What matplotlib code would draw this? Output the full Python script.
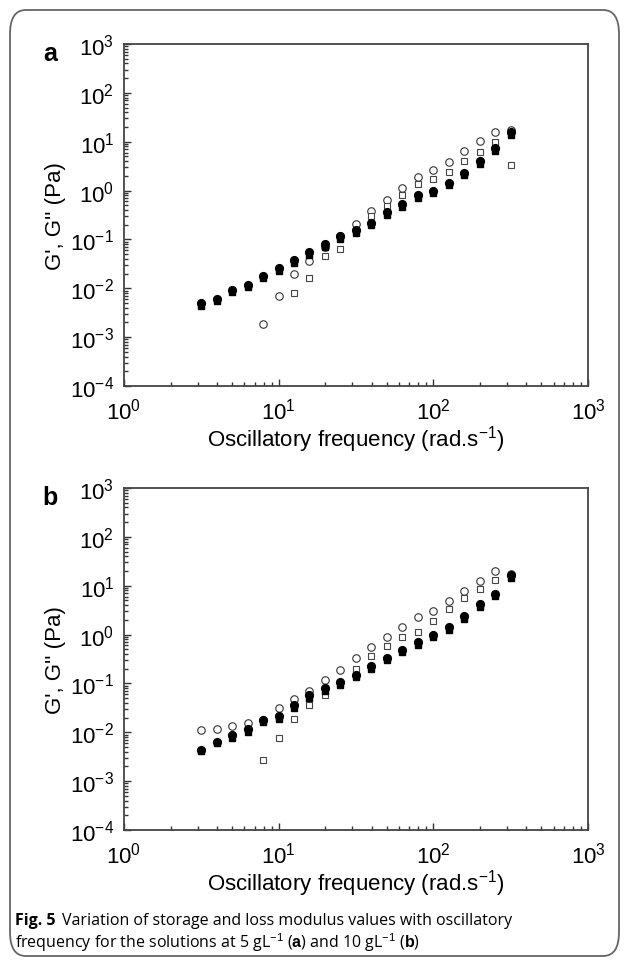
import matplotlib
matplotlib.use("Agg")
import matplotlib.pyplot as plt
import numpy as np
from matplotlib.patches import FancyBboxPatch
from matplotlib.ticker import LogLocator, LogFormatterMathtext, NullFormatter

plt.rcParams['font.family'] = ['Liberation Sans', 'DejaVu Sans']
plt.rcParams['mathtext.fontset'] = 'custom'
plt.rcParams['mathtext.rm'] = 'Liberation Sans'
plt.rcParams['mathtext.it'] = 'Liberation Sans:italic'
plt.rcParams['mathtext.bf'] = 'Liberation Sans:bold'

# oscillatory frequency (rad/s), shared by both panels
freq = [3.16, 3.98, 5.01, 6.31, 7.94, 10.0, 12.6, 15.8, 20.0, 25.1, 31.6,
        39.8, 50.1, 63.1, 79.4, 100, 126, 158, 200, 251, 316]

# panel a (5 g/L)
a_open_circ = [0.0019, 0.0071, 0.0195, 0.037, 0.07, 0.118, 0.21, 0.39, 0.64,
               1.15, 1.86, 2.63, 3.9, 6.45, 10.3, 15.8, 17.0]
a_open_sq = [0.008, 0.0165, 0.0466, 0.064, 0.15, 0.30, 0.49, 0.82, 1.36,
             1.70, 2.37, 4.0, 6.3, 9.7, 3.4]
a_fill_circ = [0.0049, 0.0061, 0.0093, 0.0118, 0.0182, 0.026, 0.038, 0.056,
               0.080, 0.115, 0.155, 0.22, 0.36, 0.53, 0.82, 1.0, 1.45, 2.3,
               4.0, 7.3, 16.0]
a_fill_sq = [0.0043, 0.0054, 0.0083, 0.0104, 0.016, 0.023, 0.033, 0.049,
             0.071, 0.102, 0.138, 0.195, 0.31, 0.47, 0.72, 0.88, 1.28, 2.05,
             3.5, 6.5, 14.0]

# panel b (10 g/L)
b_open_circ = [0.0113, 0.0117, 0.0137, 0.0155, 0.018, 0.031, 0.048, 0.071,
               0.12, 0.19, 0.33, 0.55, 0.88, 1.45, 2.33, 3.04, 4.8, 7.8,
               12.7, 19.7, 17.0]
b_open_sq = [0.00276, 0.0077, 0.019, 0.036, 0.059, 0.10, 0.20, 0.36, 0.59,
             0.91, 1.11, 1.87, 3.34, 5.5, 8.6, 13.1, 15.0]
b_fill_circ = [0.0043, 0.0064, 0.0088, 0.0116, 0.0178, 0.0218, 0.036, 0.057,
               0.079, 0.106, 0.152, 0.225, 0.335, 0.48, 0.71, 0.99, 1.43,
               2.4, 4.25, 6.9, 16.2]
b_fill_sq = [0.0041, 0.0060, 0.0078, 0.0103, 0.016, 0.019, 0.031, 0.050,
             0.070, 0.094, 0.135, 0.20, 0.30, 0.43, 0.62, 0.88, 1.26, 2.1,
             3.7, 6.1, 14.3]

W, H = 629, 962
fig = plt.figure(figsize=(W / 100, H / 100), dpi=100)


def ax_rect(left, top, right, bottom):
    return [left / W, 1 - bottom / H, (right - left) / W, (bottom - top) / H]


def panel(rect, oc, osq, fc, fsq, letter):
    ax = fig.add_axes(rect)
    ax.set_xscale('log')
    ax.set_yscale('log')
    n_oc, n_os = len(oc), len(osq)
    ax.plot(freq[-n_oc:], oc, 'o', ms=5.4, mfc='white', mec='#333333', mew=0.8)
    ax.plot(freq[-n_os:], osq, 's', ms=4.8, mfc='white', mec='#444444', mew=0.8)
    ax.plot(freq, fsq, 's', ms=5.0, color='black')
    ax.plot(freq, fc, 'o', ms=5.6, color='black')
    ax.set_xlim(1, 1000)
    ax.set_ylim(1e-4, 1e3)
    for s in ax.spines.values():
        s.set_color('#444444')
        s.set_linewidth(1.3)
    ax.xaxis.set_major_locator(LogLocator(base=10, numticks=10))
    ax.yaxis.set_major_locator(LogLocator(base=10, numticks=10))
    ax.xaxis.set_minor_locator(LogLocator(base=10, subs=np.arange(2, 10), numticks=20))
    ax.yaxis.set_minor_locator(LogLocator(base=10, subs=np.arange(2, 10), numticks=20))
    ax.xaxis.set_major_formatter(LogFormatterMathtext())
    ax.yaxis.set_major_formatter(LogFormatterMathtext())
    ax.xaxis.set_minor_formatter(NullFormatter())
    ax.yaxis.set_minor_formatter(NullFormatter())
    ax.tick_params(which='both', direction='in', top=False, right=False,
                   labelsize=16, color='#333333', width=1.0)
    ax.tick_params(which='major', length=5)
    ax.tick_params(which='minor', length=3)
    ax.tick_params(axis='x', which='major', pad=8)
    ax.tick_params(axis='y', which='major', pad=7)
    ax.set_xlabel('Oscillatory frequency (rad.s$^{-1}$)', fontsize=16, labelpad=0)
    ax.set_ylabel("G', G'' (Pa)", fontsize=16, labelpad=3)
    ax.text(-0.175, 0.975, letter, transform=ax.transAxes, fontsize=18,
            fontweight='bold', ha='left', va='center')
    return ax


panel(ax_rect(124, 45, 588, 387), a_open_circ, a_open_sq, a_fill_circ, a_fill_sq, 'a')
panel(ax_rect(124, 489, 588, 831), b_open_circ, b_open_sq, b_fill_circ, b_fill_sq, 'b')

# rounded frame around the figure
box = FancyBboxPatch((10 / W, 5 / H), 609 / W, 946 / H,
                     boxstyle='round,pad=0,rounding_size=0.025',
                     transform=fig.transFigure, fill=False,
                     edgecolor='#666666', linewidth=1.3)
fig.add_artist(box)

# caption
cap_font = ['Open Sans', 'DejaVu Sans']
cap_size = 11.5
t1 = fig.text(15 / W, 1 - 921 / H, 'Fig. 5', fontsize=cap_size, family=cap_font,
              fontweight='bold', va='center', ha='left')
fig.canvas.draw()
ext = t1.get_window_extent(fig.canvas.get_renderer())
fig.text(ext.x1 / W + 7 / W, 1 - 921 / H,
         'Variation of storage and loss modulus values with oscillatory',
         fontsize=cap_size, family=cap_font, va='center', ha='left')
fig.text(15 / W, 1 - 943 / H,
         r'frequency for the solutions at 5 gL$^{-1}$ ($\mathbf{a}$) and 10 gL$^{-1}$ ($\mathbf{b}$)',
         fontsize=cap_size, family=cap_font, va='center', ha='left')

fig.savefig('out.png', dpi=100)
